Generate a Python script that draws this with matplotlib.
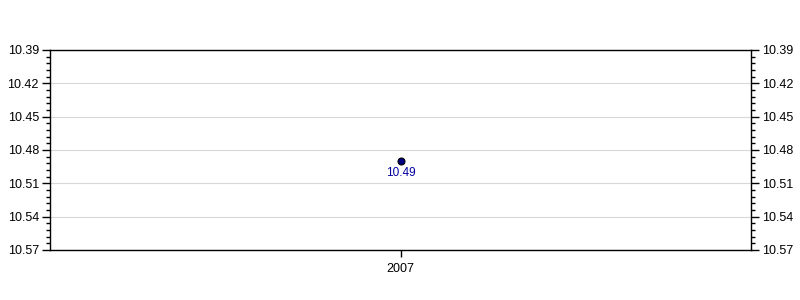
import matplotlib
matplotlib.use("Agg")
import matplotlib.pyplot as plt
import numpy as np
from matplotlib.ticker import FixedLocator, FormatStrFormatter

plt.rcParams['font.family'] = ['Liberation Sans', 'DejaVu Sans']

years = ["2007"]
values = [10.49]
y_min, y_max, y_step = 10.39, 10.57, 0.03

fig = plt.figure(figsize=(8, 3), dpi=100)
ax = fig.add_axes([50/800, 50/300, 701/800, 200/300])

x = list(range(len(years)))
ax.plot(x, values, 'o', color='#000080', markeredgecolor='black', markersize=5, markeredgewidth=0.8, zorder=3)
for xi, v in zip(x, values):
    ax.annotate(f"{v:.2f}", (xi, v), xytext=(0, -4), textcoords='offset points',
                ha='center', va='top', color='#0000A0', fontsize=8.5)

n = int(round((y_max - y_min) / y_step))
major = [y_min + i * y_step for i in range(n + 1)]
minor = [y_min + i * y_step / 5 for i in range(n * 5 + 1)]

ax.set_xlim(-1, 1)
ax.set_xticks(x)
ax.set_xticklabels(years)
ax.set_ylim(y_max, y_min)
ax.yaxis.set_major_locator(FixedLocator(major))
ax.yaxis.set_minor_locator(FixedLocator(minor))
ax.yaxis.set_major_formatter(FormatStrFormatter('%.2f'))
ax.tick_params(axis='y', which='major', length=6, width=1, labelsize=9, left=True, right=True, labelleft=True, labelright=True, pad=2, colors='black')
ax.tick_params(axis='y', which='minor', length=3, width=1, left=True, right=True)
ax.tick_params(axis='x', which='major', length=5, width=1, labelsize=9, pad=4)
ax.yaxis.grid(True, which='major', color='#d8d8d8', linewidth=0.8)
ax.set_axisbelow(True)
for s in ax.spines.values():
    s.set_color('black')
    s.set_linewidth(1)

fig.savefig("out.png", dpi=100)
